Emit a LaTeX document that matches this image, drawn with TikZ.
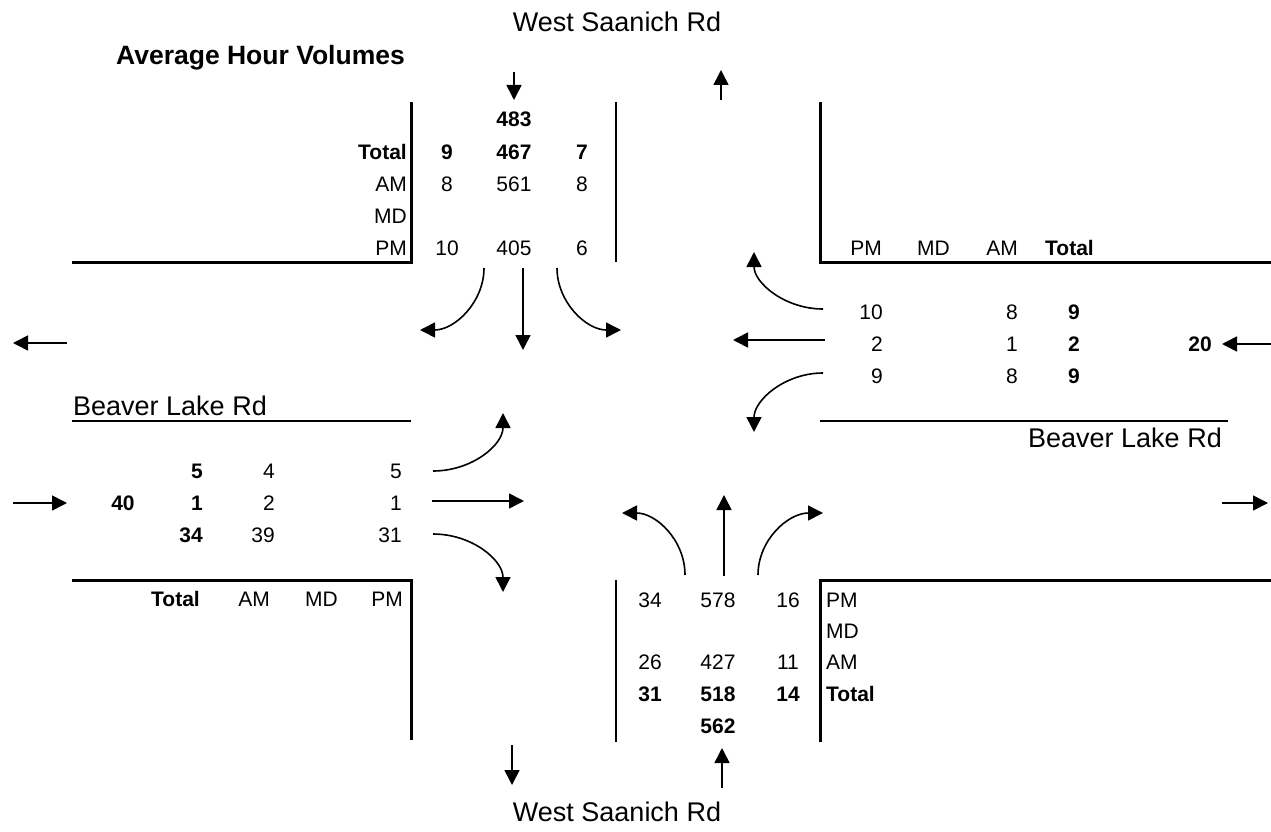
\documentclass[tikz,border=0pt]{standalone}
\usepackage{fontspec}
\setmainfont{Liberation Sans}
\usetikzlibrary{arrows.meta}
\begin{document}
\begin{tikzpicture}[x=1pt,y=-1pt,
  txt/.style={inner sep=0pt,text depth=0pt},
  num/.style={txt,text height=15.1pt,font=\fontsize{21}{25}\selectfont},
  bnum/.style={txt,text height=15.1pt,font=\fontsize{21}{25}\selectfont\bfseries},
  road/.style={txt,text height=19.4pt,font=\fontsize{27}{31}\selectfont},
  ttl/.style={txt,text height=19.1pt,font=\fontsize{26.5}{31}\selectfont\bfseries},
  heavy/.style={line width=3pt},
  light/.style={line width=1.1pt},
  arr/.style={line width=1.6pt,-{Triangle[length=15pt,width=15pt]}}]
\useasboundingbox (0,0) rectangle (1271,832);

% ---------- titles / road names
\node[road] (wsnT) at (617,22) {West Saanich Rd};
\node[road] (wsnB) at (617,812) {West Saanich Rd};
\node[ttl,anchor=east] (title) at (405,55) {Average Hour Volumes};
\node[road,anchor=west] (blrL) at (73,406) {Beaver Lake Rd};
\node[road,anchor=east] (blrR) at (1222,438) {Beaver Lake Rd};

% ---------- road edges
\draw[heavy] (72,262) -- (411,262) -- (411,102);
\draw[heavy] (820,102) -- (820,262) -- (1271,262);
\draw[heavy] (72,580) -- (411,580) -- (411,740);
\draw[heavy] (1271,580) -- (820,580) -- (820,742);
\draw[light] (616,102) -- (616,262);
\draw[light] (616,580) -- (616,742);
\draw[light] (72,421) -- (411,421);
\draw[light] (820,421) -- (1228,421);

% ---------- north approach table
\node[bnum] (nIn) at (514,119) {483};
\node[bnum,anchor=east] (nTot) at (407,152) {Total};
\node[bnum] (nT1) at (447,152) {9};
\node[bnum] (nT2) at (514,152) {467};
\node[bnum] (nT3) at (582,152) {7};
\node[num,anchor=east] (nAM) at (407,184) {AM};
\node[num] (nA1) at (447,184) {8};
\node[num] (nA2) at (514,184) {561};
\node[num] (nA3) at (582,184) {8};
\node[num,anchor=east] (nMD) at (407,216) {MD};
\node[num,anchor=east] (nPM) at (407,248) {PM};
\node[num] (nP1) at (447,248) {10};
\node[num] (nP2) at (514,248) {405};
\node[num] (nP3) at (582,248) {6};

% ---------- east approach table
\node[num,anchor=east] (ePM) at (882,248) {PM};
\node[num,anchor=east] (eMD) at (950,248) {MD};
\node[num,anchor=east] (eAM) at (1018,248) {AM};
\node[bnum,anchor=east] (eTot) at (1094,248) {Total};
\node[num,anchor=east] (eP1) at (883,312) {10};
\node[num,anchor=east] (eA1) at (1018,312) {8};
\node[bnum,anchor=east] (eT1) at (1080,312) {9};
\node[num,anchor=east] (eP2) at (883,344) {2};
\node[num,anchor=east] (eA2) at (1018,344) {1};
\node[bnum,anchor=east] (eT2) at (1080,344) {2};
\node[bnum] (eIn) at (1200,344) {20};
\node[num,anchor=east] (eP3) at (883,376) {9};
\node[num,anchor=east] (eA3) at (1018,376) {8};
\node[bnum,anchor=east] (eT3) at (1080,376) {9};

% ---------- west approach table
\node[bnum,anchor=east] (wT1) at (203,471) {5};
\node[num,anchor=east] (wA1) at (275,471) {4};
\node[num,anchor=east] (wP1) at (402,471) {5};
\node[bnum] (wIn) at (123,503) {40};
\node[bnum,anchor=east] (wT2) at (203,503) {1};
\node[num,anchor=east] (wA2) at (275,503) {2};
\node[num,anchor=east] (wP2) at (402,503) {1};
\node[bnum,anchor=east] (wT3) at (203,535) {34};
\node[num,anchor=east] (wA3) at (275,535) {39};
\node[num,anchor=east] (wP3) at (402,535) {31};
\node[bnum,anchor=east] (wTot) at (200,599) {Total};
\node[num,anchor=east] (wAM) at (270,599) {AM};
\node[num,anchor=east] (wMD) at (338,599) {MD};
\node[num,anchor=east] (wPM) at (403,599) {PM};

% ---------- south approach table
\node[num] (sP1) at (650,600) {34};
\node[num] (sP2) at (718,600) {578};
\node[num] (sP3) at (788,600) {16};
\node[num,anchor=west] (sPM) at (826,600) {PM};
\node[num,anchor=west] (sMD) at (826,631) {MD};
\node[num] (sA1) at (650,662) {26};
\node[num] (sA2) at (718,662) {427};
\node[num] (sA3) at (788,662) {11};
\node[num,anchor=west] (sAM) at (826,662) {AM};
\node[bnum] (sT1) at (650,694) {31};
\node[bnum] (sT2) at (718,694) {518};
\node[bnum] (sT3) at (788,694) {14};
\node[bnum,anchor=west] (sTot) at (826,694) {Total};
\node[bnum] (sIn) at (718,726) {562};

% ---------- arrow end points
\coordinate (nInA) at (514,72);   \coordinate (nInB) at (514,100);
\coordinate (nOutA) at (721,100); \coordinate (nOutB) at (721,70);
\coordinate (nLA) at (484,268);   \coordinate (nLB) at (420,330);
\coordinate (nSA) at (523,268);   \coordinate (nSB) at (523,350);
\coordinate (nRA) at (557,268);   \coordinate (nRB) at (621,330);

\coordinate (eRA) at (823,309);   \coordinate (eRB) at (754,252);
\coordinate (eSA) at (825,340);   \coordinate (eSB) at (733,340);
\coordinate (eLA) at (823,373);   \coordinate (eLB) at (754,432);
\coordinate (eInA) at (1271,344); \coordinate (eInB) at (1222,344);
\coordinate (eOutA) at (1222,503);\coordinate (eOutB) at (1268,503);

\coordinate (wLA) at (433,471);   \coordinate (wLB) at (503,413);
\coordinate (wSA) at (432,501);   \coordinate (wSB) at (524,501);
\coordinate (wRA) at (433,534);   \coordinate (wRB) at (503,592);
\coordinate (wInA) at (13,503);   \coordinate (wInB) at (67,503);
\coordinate (wOutA) at (67,343);  \coordinate (wOutB) at (13,343);

\coordinate (sLA) at (685,575);   \coordinate (sLB) at (622,513);
\coordinate (sSA) at (724,576);   \coordinate (sSB) at (724,495);
\coordinate (sRA) at (758,575);   \coordinate (sRB) at (823,513);
\coordinate (sInA) at (722,788);  \coordinate (sInB) at (722,748);
\coordinate (sOutA) at (512,745); \coordinate (sOutB) at (512,785);

% ---------- arrows
\draw[arr] (nInA) -- (nInB);
\draw[arr] (nOutA) -- (nOutB);
\draw[arr] (nLA) .. controls (484,302) and (455,330) .. (nLB);
\draw[arr] (nSA) -- (nSB);
\draw[arr] (nRA) .. controls (557,302) and (586,330) .. (nRB);

\draw[arr] (eRA) .. controls (785,309) and (754,283) .. (eRB);
\draw[arr] (eSA) -- (eSB);
\draw[arr] (eLA) .. controls (785,373) and (754,400) .. (eLB);
\draw[arr] (eInA) -- (eInB);
\draw[arr] (eOutA) -- (eOutB);

\draw[arr] (wLA) .. controls (472,471) and (503,445) .. (wLB);
\draw[arr] (wSA) -- (wSB);
\draw[arr] (wRA) .. controls (472,534) and (503,560) .. (wRB);
\draw[arr] (wInA) -- (wInB);
\draw[arr] (wOutA) -- (wOutB);

\draw[arr] (sLA) .. controls (685,540) and (656,513) .. (sLB);
\draw[arr] (sSA) -- (sSB);
\draw[arr] (sRA) .. controls (758,540) and (788,513) .. (sRB);
\draw[arr] (sInA) -- (sInB);
\draw[arr] (sOutA) -- (sOutB);
\end{tikzpicture}
\end{document}
